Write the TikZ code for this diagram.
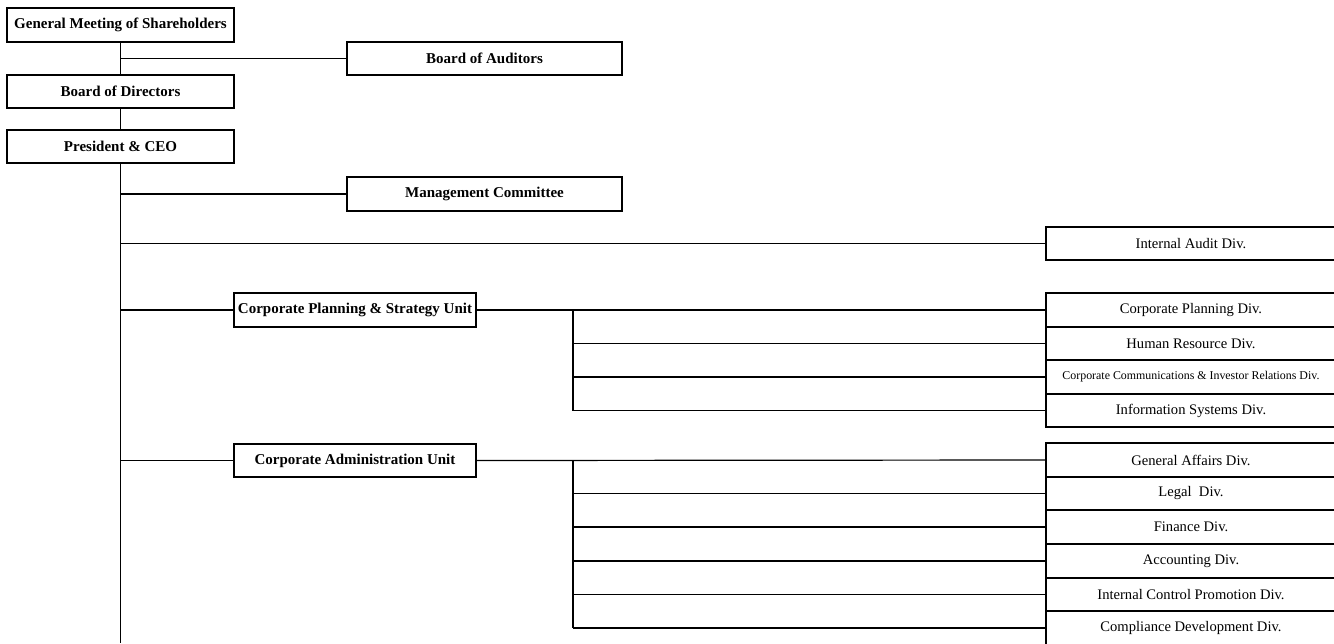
\documentclass[tikz,border=0pt]{standalone}
\usepackage{fontspec}
\setmainfont{Liberation Serif}
\begin{document}
\begin{tikzpicture}[x=1pt,y=-1pt,
  line width=1.2pt,
  box/.style={draw, line width=1.2pt, inner sep=0pt, outer sep=0pt, align=center},
  topbox/.style={box, font=\bfseries\fontsize{15}{17}\selectfont},
  divbox/.style={box, minimum width=290pt, font=\fontsize{14.6}{16}\selectfont},
  smalldiv/.style={box, minimum width=290pt, font=\fontsize{11.9}{13}\selectfont},
  conn/.style={line width=1.2pt}]
\useasboundingbox (0,0) rectangle (1334,643);
% top chain
\node[topbox, minimum width=227pt, minimum height=34pt] (gms) at (120.5,25) {General Meeting of Shareholders};
\node[topbox, minimum width=275pt, minimum height=33pt] (boa) at (484.5,58.5) {Board of Auditors};
\node[topbox, minimum width=227pt, minimum height=33pt] (bod) at (120.5,91.5) {Board of Directors};
\node[topbox, minimum width=227pt, minimum height=33pt] (ceo) at (120.5,146.5) {President \& CEO};
\node[topbox, minimum width=275pt, minimum height=34pt] (mc) at (484.5,194) {Management Committee};
\node[divbox, minimum height=33pt] (iad) at (1191,243.5) {Internal Audit Div.};
% units
\node[topbox, minimum width=242pt, minimum height=34pt] (cpsu) at (355,310) {Corporate Planning \& Strategy Unit};
\node[topbox, minimum width=242pt, minimum height=33pt] (cau) at (355,460.5) {Corporate Administration Unit};
% planning divisions
\node[divbox, minimum height=34pt] (cpd) at (1191,310) {Corporate Planning Div.};
\node[divbox, minimum height=33pt] (hrd) at (1191,343.5) {Human Resource Div.};
\node[smalldiv, minimum height=34pt] (ccir) at (1191,377) {Corporate Communications \& Investor Relations Div.};
\node[divbox, minimum height=33pt] (isd) at (1191,410.5) {Information Systems Div.};
% administration divisions
\node[divbox, minimum height=34pt] (gad) at (1191,460) {General Affairs Div.};
\node[divbox, minimum height=33pt] (lgd) at (1191,493.5) {Legal\ \ Div.};
\node[divbox, minimum height=34pt] (fin) at (1191,527) {Finance Div.};
\node[divbox, minimum height=34pt] (acc) at (1191,561) {Accounting Div.};
\node[divbox, minimum height=33pt] (icp) at (1191,594.5) {Internal Control Promotion Div.};
\node[divbox, minimum height=34pt] (cdd) at (1191,628) {Compliance Development Div.};
% coordinates
\coordinate (trunkend) at (120.5,643);
\coordinate (splt) at (573,310);
\coordinate (salt) at (573,462);
% main trunk
\draw[conn] (gms.south) -- (bod.north);
\draw[conn] (bod.south) -- (ceo.north);
\draw[conn] (ceo.south) -- (trunkend);
\draw[conn] (boa.west -| gms.south) -- (boa.west);
\draw[conn] (mc.west -| ceo.south) -- (mc.west);
\draw[conn] (iad.west -| ceo.south) -- (iad.west);
\draw[conn] (cpsu.west -| ceo.south) -- (cpsu.west);
\draw[conn] (cau.west -| ceo.south) -- (cau.west);
% planning unit branch
\draw[conn] (cpsu.east) -- (cpd.west);
\draw[conn] (splt) -- (splt |- isd.west);
\draw[conn] (splt |- hrd.west) -- (hrd.west);
\draw[conn] (splt |- ccir.west) -- (ccir.west);
\draw[conn] (splt |- isd.west) -- (isd.west);
% administration unit branch
\draw[conn] (cau.east) -- (gad.west);
\draw[conn] (salt |- gad.west) -- (salt |- cdd.west);
\draw[conn] (salt |- lgd.west) -- (lgd.west);
\draw[conn] (salt |- fin.west) -- (fin.west);
\draw[conn] (salt |- acc.west) -- (acc.west);
\draw[conn] (salt |- icp.west) -- (icp.west);
\draw[conn] (salt |- cdd.west) -- (cdd.west);
\end{tikzpicture}
\end{document}
